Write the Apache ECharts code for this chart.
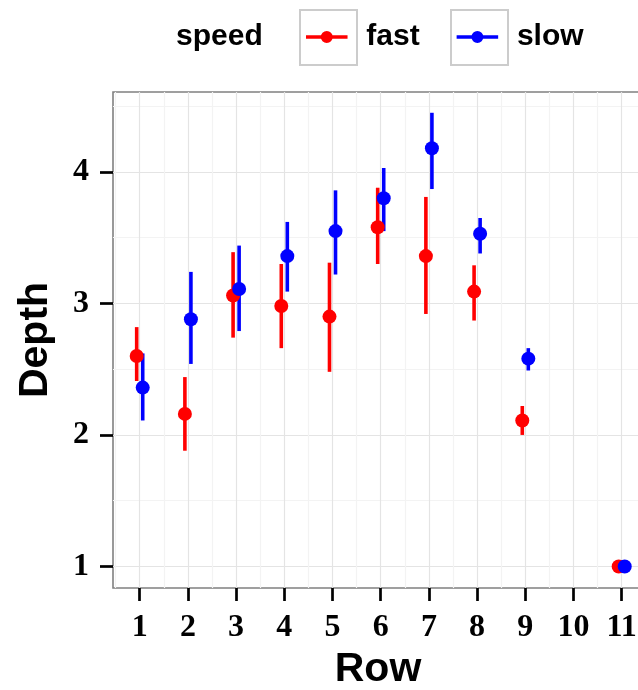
<!DOCTYPE html>
<html>
<head>
<meta charset="utf-8">
<script src="https://cdn.jsdelivr.net/npm/echarts@6/dist/echarts.min.js"></script>
<style>
  html, body { margin: 0; padding: 0; background: #ffffff; }
  #chart { width: 638px; height: 690px; }
</style>
</head>
<body>
<div id="chart"></div>
<script>
// Mean depth per row with lower/upper interval, split by speed.
const rows = [1, 2, 3, 4, 5, 6, 7, 8, 9, 11];

const fastMean = [2.60, 2.16, 3.06, 2.98, 2.90, 3.58, 3.36, 3.09, 2.11, 1.00];
const fastLow  = [2.41, 1.88, 2.74, 2.66, 2.48, 3.30, 2.92, 2.87, 2.00, 1.00];
const fastHigh = [2.82, 2.44, 3.39, 3.30, 3.31, 3.88, 3.81, 3.29, 2.22, 1.00];

const slowMean = [2.36, 2.88, 3.11, 3.36, 3.55, 3.80, 4.18, 3.53, 2.58, 1.00];
const slowLow  = [2.11, 2.54, 2.79, 3.09, 3.22, 3.55, 3.87, 3.38, 2.49, 1.00];
const slowHigh = [2.62, 3.24, 3.44, 3.62, 3.86, 4.03, 4.45, 3.65, 2.66, 1.00];

// Axis breaks
const xTicks = [1, 2, 3, 4, 5, 6, 7, 8, 9, 10, 11];
const xMinor = [0.5, 1.5, 2.5, 3.5, 4.5, 5.5, 6.5, 7.5, 8.5, 9.5, 10.5, 11.5];
const yTicks = [1, 2, 3, 4];
const yMinor = [1.5, 2.5, 3.5, 4.5];

const RED = '#ff0000';
const BLUE = '#0000ff';
const DODGE = 0.0625;   // horizontal offset between the two speed groups

const tickFont = { fontFamily: 'Liberation Serif', fontWeight: 'bold', fontSize: 32, color: '#000' };
const titleFont = { fontFamily: 'Liberation Sans', fontWeight: 'bold', fontSize: 41, color: '#000' };
const legendFont = { fontFamily: 'Liberation Sans', fontWeight: 'bold', fontSize: 30, color: '#000' };

function pointData(offset, means) {
  return rows.map((r, i) => [r + offset, means[i]]);
}
function rangeData(offset, lows, highs) {
  return rows.map((r, i) => [r + offset, lows[i], highs[i]]);
}

// vertical interval line drawn through the cartesian coordinate system
function rangeRenderer(color) {
  return function (params, api) {
    const top = api.coord([api.value(0), api.value(2)]);
    const bottom = api.coord([api.value(0), api.value(1)]);
    return {
      type: 'line',
      shape: { x1: top[0], y1: top[1], x2: bottom[0], y2: bottom[1] },
      style: { stroke: color, lineWidth: 3.6 }
    };
  };
}

// legend key: horizontal line with a dot in the middle
const keyIcon = 'path://M0,4.2 L45,4.2 L45,7.8 L0,7.8 Z M16,6 A6,6 0 1,1 29,6 A6,6 0 1,1 16,6 Z';

const chart = echarts.init(document.getElementById('chart'), null, { renderer: 'canvas' });

chart.setOption({
  animation: false,
  backgroundColor: '#ffffff',
  title: {
    text: 'speed',
    left: 176,
    top: 22,
    padding: 0,
    textStyle: legendFont
  },
  legend: {
    data: ['fast', 'slow'],
    left: 306,
    top: 22,
    padding: 0,
    itemGap: 37,
    itemWidth: 45,
    itemHeight: 12,
    icon: keyIcon,
    selectedMode: false,
    textStyle: Object.assign({ padding: [0, 0, 0, 12] }, legendFont)
  },
  graphic: [
    { type: 'rect', z: 1, shape: { x: 300, y: 10, width: 57, height: 55 },
      style: { fill: '#ffffff', stroke: '#cccccc', lineWidth: 2 } },
    { type: 'rect', z: 1, shape: { x: 451, y: 10, width: 57, height: 55 },
      style: { fill: '#ffffff', stroke: '#cccccc', lineWidth: 2 } }
  ],
  grid: {
    left: 113,
    top: 92,
    width: 530,
    height: 496,
    containLabel: false,
    outerBoundsMode: 'none',
    show: true,
    backgroundColor: '#ffffff',
    borderColor: '#808080',
    borderWidth: 1.6
  },
  xAxis: [
    {
      type: 'value',
      min: 0.446,
      max: 11.442,
      position: 'bottom',
      name: 'Row',
      nameLocation: 'middle',
      nameGap: 61,
      nameTextStyle: titleFont,
      axisLine: { show: false },
      axisTick: { show: true, length: 13, customValues: xTicks, lineStyle: { color: '#000', width: 2.7 } },
      axisLabel: Object.assign({ customValues: xTicks, margin: 24 }, tickFont),
      splitLine: { show: true, lineStyle: { color: '#e4e4e4', width: 1.2 } }
    },
    {
      type: 'value',
      min: 0.446,
      max: 11.442,
      position: 'top',
      axisLine: { show: false },
      axisTick: { show: false, customValues: xMinor },
      axisLabel: { show: false },
      splitLine: { show: true, lineStyle: { color: '#f3f3f3', width: 1.2 } }
    }
  ],
  yAxis: [
    {
      type: 'value',
      min: 0.836,
      max: 4.608,
      position: 'left',
      name: 'Depth',
      nameLocation: 'middle',
      nameRotate: 90,
      nameGap: 57,
      nameTextStyle: titleFont,
      axisLine: { show: false },
      axisTick: { show: true, length: 13, customValues: yTicks, lineStyle: { color: '#000', width: 2.7 } },
      axisLabel: Object.assign({ customValues: yTicks, margin: 24 }, tickFont),
      splitLine: { show: true, lineStyle: { color: '#e4e4e4', width: 1.2 } }
    },
    {
      type: 'value',
      min: 0.836,
      max: 4.608,
      position: 'right',
      axisLine: { show: false },
      axisTick: { show: false, customValues: yMinor },
      axisLabel: { show: false },
      splitLine: { show: true, lineStyle: { color: '#f3f3f3', width: 1.2 } }
    }
  ],
  series: [
    {
      name: 'fast', type: 'custom', z: 2, xAxisIndex: 0, yAxisIndex: 0,
      itemStyle: { color: RED },
      renderItem: rangeRenderer(RED),
      encode: { x: 0, y: [1, 2] },
      data: rangeData(-DODGE, fastLow, fastHigh)
    },
    {
      name: 'slow', type: 'custom', z: 2, xAxisIndex: 0, yAxisIndex: 0,
      itemStyle: { color: BLUE },
      renderItem: rangeRenderer(BLUE),
      encode: { x: 0, y: [1, 2] },
      data: rangeData(DODGE, slowLow, slowHigh)
    },
    {
      name: 'fast', type: 'scatter', z: 3, xAxisIndex: 0, yAxisIndex: 0,
      symbol: 'circle', symbolSize: 14,
      itemStyle: { color: RED, opacity: 1 },
      emphasis: { disabled: true },
      data: pointData(-DODGE, fastMean)
    },
    {
      name: 'slow', type: 'scatter', z: 3, xAxisIndex: 0, yAxisIndex: 0,
      symbol: 'circle', symbolSize: 14,
      itemStyle: { color: BLUE, opacity: 1 },
      emphasis: { disabled: true },
      data: pointData(DODGE, slowMean)
    }
  ]
});
</script>
</body>
</html>
